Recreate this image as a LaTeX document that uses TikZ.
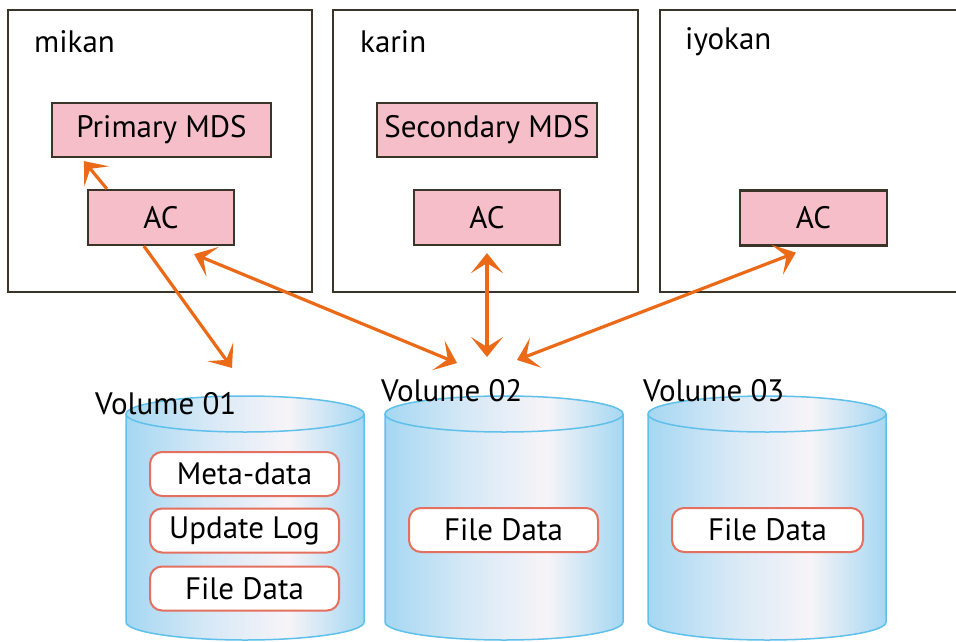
\documentclass[tikz,border=0pt]{standalone}
\usepackage{fontspec}
\setmainfont{PT Sans}
\usetikzlibrary{arrows.meta}
\definecolor{hostline}{RGB}{58,53,40}
\definecolor{acpink}{RGB}{245,190,201}
\definecolor{linkorange}{RGB}{234,106,24}
\definecolor{volline}{RGB}{95,192,235}
\definecolor{volblue}{RGB}{165,215,242}
\definecolor{volpale}{RGB}{247,244,248}
\definecolor{dataline}{RGB}{228,112,96}
\pgfdeclarehorizontalshading{volshade}{100bp}{color(0bp)=(volblue); color(25bp)=(volblue); color(42bp)=(volblue!40!volpale); color(59bp)=(volpale); color(75bp)=(volblue); color(100bp)=(volblue)}

\begin{document}
\begin{tikzpicture}[x=1pt,y=-1pt,font=\fontsize{31}{34}\selectfont,
  host/.style={draw=hostline,line width=2.8pt},
  module/.style={draw=hostline,fill=acpink,line width=2.2pt,inner sep=0pt},
  datafile/.style={draw=dataline,fill=white,rounded corners=12pt,line width=2pt,minimum height=44pt,inner sep=0pt},
  link/.style={draw=linkorange,line width=3.2pt,-{Stealth[length=20pt,width=32pt,inset=10pt]}},
  link2/.style={link,{Stealth[length=20pt,width=32pt,inset=10pt]}-{Stealth[length=20pt,width=32pt,inset=10pt]}}]
  \useasboundingbox (0,0) rectangle (956,642);
  % hosts
  \draw[host] (8,10) rectangle (312,292);
  \draw[host] (333,10) rectangle (638,292);
  \draw[host] (660,10) rectangle (970,292);
  \node[anchor=west,inner sep=0pt] (mikan) at (34,42) {mikan};
  \node[anchor=west,inner sep=0pt] (karin) at (360,42) {karin};
  \node[anchor=west,inner sep=0pt] (iyokan) at (685,42) {iyokan};
  \node[module,minimum width=219pt,minimum height=54pt] (pmds) at (161.5,130) {Primary MDS};
  \node[module,minimum width=220pt,minimum height=54pt] (smds) at (487,130) {Secondary MDS};
  \node[module,minimum width=146pt,minimum height=55pt] (acm) at (161,217.5) {AC};
  \node[module,minimum width=146pt,minimum height=55pt] (ack) at (487,217.5) {AC};
  \node[module,minimum width=147pt,minimum height=55pt] (aci) at (813.5,218) {AC};
  % volumes
  \foreach \cx/\num/\lx/\ly in {245/01/95/404, 504/02/381/391, 767/03/643/391}{
    \path[shading=volshade] (\cx-119,414) -- (\cx-119,622)
      arc[start angle=180,end angle=360,x radius=119pt,y radius=18pt] -- (\cx+119,414)
      arc[start angle=0,end angle=180,x radius=119pt,y radius=18pt] -- cycle;
    \draw[volline,line width=1.5pt] (\cx-119,414) -- (\cx-119,622)
      arc[start angle=180,end angle=360,x radius=119pt,y radius=18pt] -- (\cx+119,414);
    \draw[volline,line width=1.5pt] (\cx,414) ellipse[x radius=119pt,y radius=18pt];
    \node[anchor=west,inner sep=0pt] (vol\num) at (\lx,\ly) {Volume \num};
  }
  \node[datafile,minimum width=189pt] (meta) at (244.5,474) {Meta-data};
  \node[datafile,minimum width=189pt] (ulog) at (244.5,530.5) {Update Log};
  \node[datafile,minimum width=189pt] (fd01) at (244.5,588.5) {File Data};
  \node[datafile,minimum width=189pt] (fd02) at (503.5,530) {File Data};
  \node[datafile,minimum width=191pt] (fd03) at (767.5,530) {File Data};
  % links
  \coordinate (in01) at (232,368);
  \coordinate (in02a) at (457,363);
  \coordinate (in02b) at (487,357);
  \coordinate (in02c) at (517,360);
  \draw[link] ([xshift=20pt]acm.north west) -- ([shift={(33pt,-3pt)}]pmds.south west);
  \draw[link] ([xshift=57pt]acm.south west) -- (in01);
  \draw[link2] ([shift={(-41pt,-8pt)}]acm.south east) -- (in02a);
  \draw[link2] ([yshift=-7pt]ack.south) -- (in02b);
  \draw[link2] ([shift={(57pt,-6pt)}]aci.south west) -- (in02c);
\end{tikzpicture}
\end{document}
